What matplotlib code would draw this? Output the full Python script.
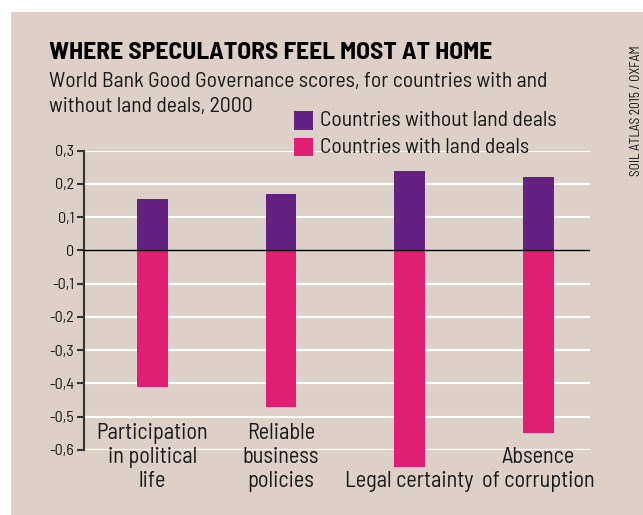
import matplotlib
matplotlib.use("Agg")
import matplotlib.pyplot as plt
from matplotlib.patches import Rectangle
import matplotlib.transforms as mtransforms
import numpy as np

# governance scores by indicator
categories = ["Participation\nin political\nlife", "Reliable\nbusiness\npolicies",
              "Legal certainty", "Absence\nof corruption"]
without_deals = [0.155, 0.17, 0.24, 0.22]
with_deals = [-0.41, -0.47, -0.65, -0.55]
yticks = [0.3, 0.2, 0.1, 0, -0.1, -0.2, -0.3, -0.4, -0.5, -0.6]
series_names = ["Countries without land deals", "Countries with land deals"]

bg = "#dcd0c8"
purple = "#642182"
pink = "#e01e73"
ink = "#1a1a1a"

plt.rcParams["font.family"] = ["Barlow Semi Condensed", "Roboto Condensed", "DejaVu Sans"]

W, H = 643, 515
fig = plt.figure(figsize=(W / 100, H / 100), dpi=100, facecolor="white")

# beige panel
fig.patches.append(Rectangle((11 / W, 0), 1, 1 - 12 / H, transform=fig.transFigure,
                             facecolor=bg, edgecolor="none", zorder=-10))

ax = fig.add_axes([84 / W, 1 - 450 / H, (590 - 84) / W, (450 - 150.7) / H])
ax.set_facecolor("none")

x = np.arange(len(categories))
ax.bar(x, without_deals, width=0.24, color=purple, zorder=3, clip_on=False)
ax.bar(x, with_deals, width=0.24, color=pink, zorder=3, clip_on=False)

ax.set_xlim(-0.53, 3.4)
ax.set_ylim(-0.6, 0.3)
ax.set_yticks(yticks)
ax.set_yticklabels([("0" if v == 0 else f"{v:.1f}".replace(".", ",")) for v in yticks],
                   fontsize=11.5, color=ink)
ax.set_xticks([])
for v in yticks:
    if v != 0:
        ax.axhline(v, color="white", lw=1.6, zorder=1)
ax.axhline(0, color="black", lw=1.0, zorder=4)

for s in ["top", "right", "bottom"]:
    ax.spines[s].set_visible(False)
ax.spines["left"].set_color("#333333")
ax.spines["left"].set_linewidth(1.5)
ax.tick_params(axis="y", length=5, width=1.5, color="#333333", pad=2)

# category labels under the bars
trans = mtransforms.blended_transform_factory(ax.transData, fig.transFigure)
for xi, lab in zip(x, categories):
    ax.text(xi, 1 - 492 / H, lab, transform=trans, ha="center", va="bottom",
            fontsize=16, color=ink, linespacing=1.18, zorder=5)

# titles
fig.text(49 / W, 1 - 59 / H, "WHERE SPECULATORS FEEL MOST AT HOME", fontsize=18.4,
         fontweight="bold", color="black", va="baseline")
fig.text(49 / W, 1 - 87 / H, "World Bank Good Governance scores, for countries with and",
         fontsize=15.6, color=ink, va="baseline")
fig.text(49 / W, 1 - 111.5 / H, "without land deals, 2000",
         fontsize=15.6, color=ink, va="baseline")

# legend
for (ytop, col, name) in [(111, purple, series_names[0]), (137.7, pink, series_names[1])]:
    fig.patches.append(Rectangle((294 / W, 1 - (ytop + 18.5) / H), 18.7 / W, 18.5 / H,
                                 transform=fig.transFigure, facecolor=col,
                                 edgecolor="none", zorder=6))
    fig.text(320.5 / W, 1 - (ytop + 15.5) / H, name, fontsize=15.6, color=ink,
             va="baseline", zorder=6)

# source credit
fig.text(636 / W, 1 - 111 / H, "SOIL ATLAS 2015 / OXFAM", rotation=90, fontsize=9.6,
         color=ink, ha="center", va="center")

fig.savefig("out.png", dpi=100, facecolor="white")
